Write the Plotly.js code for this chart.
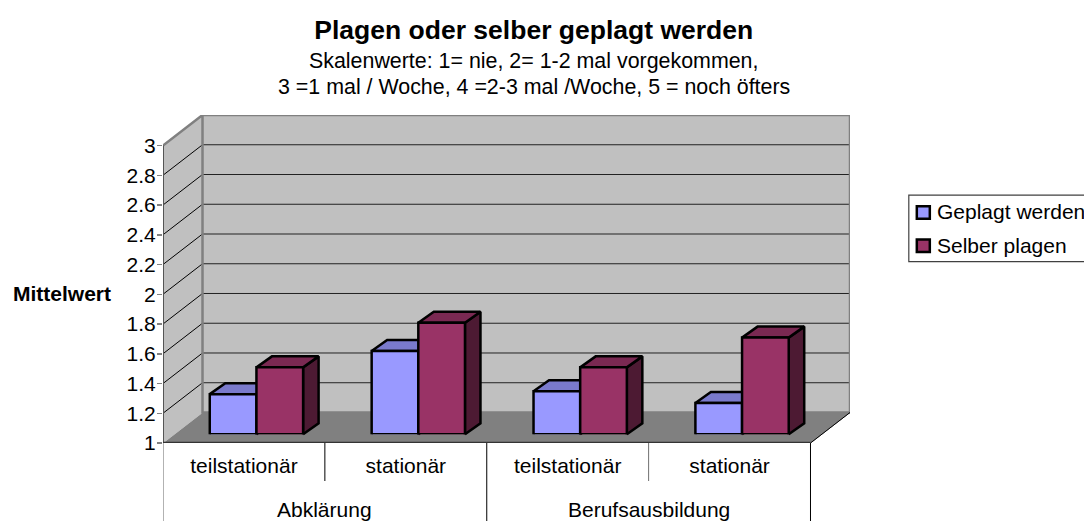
<!DOCTYPE html>
<html><head><meta charset="utf-8">
<script src="https://cdn.plot.ly/plotly-3.0.1.min.js"></script>
<style>html,body{margin:0;padding:0;background:#fff;overflow:hidden}</style>
</head><body><div id="c" style="width:1084px;height:521px"></div>
<script>
const subCategories = ['teilstationär','stationär','teilstationär','stationär'];
const groups = ['Abklärung','Berufsausbildung'];
const geplagt = [1.27,1.56,1.29,1.21];
const selber = [1.45,1.75,1.45,1.65];
const yTicks = [1,1.2,1.4,1.6,1.8,2,2.2,2.4,2.6,2.8,3];
const yTickText = ['1','1.2','1.4','1.6','1.8','2','2.2','2.4','2.6','2.8','3'];
const titleText = 'Plagen oder selber geplagt werden';
const subtitle1 = 'Skalenwerte: 1= nie, 2= 1-2 mal vorgekommen,';
const subtitle2 = '3 =1 mal / Woche, 4 =2-3 mal /Woche, 5 = noch öfters';
const FONT = '"Liberation Sans", Arial, sans-serif';
const BLUE = {name:'Geplagt werden', front:'#9999ff', top:'#7a7acc', side:'#4d4d80'};
const RED = {name:'Selber plagen', front:'#993366', top:'#7a2952', side:'#4d1a33'};

// layout geometry
const W=1084,H=521,L=163.3,T=114.8,B=442.7;
const unitX=161.85,unitY=148.7;
const wallDX=39.5/unitX, wallDY=30.5/unitY;
const barDX=15.5/unitX, barDY=11/unitY;
const groupW=93.3/unitX, groupShift=12.5/unitX, lift=8.7/unitY;
const plotW=unitX*(4+wallDX), plotH=B-T;
const nCat=subCategories.length;
const centers=subCategories.map((_,i)=>i+0.5);
const barX=centers.map(c=>c+groupShift);
const px=x=>(x-L)/plotW, py=y=>(B-y)/plotH;

function poly(pts,fill,line,width){return {type:'scatter',mode:'lines',x:pts.map(p=>p&&p[0]),y:pts.map(p=>p&&p[1]),
  fill:fill?'toself':'none',fillcolor:fill||undefined,line:{color:line,width:width,shape:'linear'},
  cliponaxis:false,hoverinfo:'skip',showlegend:false,connectgaps:false};}

const traces=[];
const wallTop=3+wallDY, wallBase=1+wallDY, wallRight=nCat+wallDX;
traces.push(poly([[0,1],[wallDX,wallBase],[wallRight,wallBase],[nCat,1],[0,1]],'#808080','#808080',1));
traces.push(poly([[0,1],[wallDX,wallBase],[wallDX,wallTop],[0,3],[0,1]],'#c0c0c0','#c0c0c0',1));
traces.push(poly([[wallDX,wallBase],[wallRight,wallBase],[wallRight,wallTop],[wallDX,wallTop],[wallDX,wallBase]],'#c0c0c0','#c0c0c0',1));
// gridlines
const gl=[],gb=[];
yTicks.slice(1,-1).forEach(v=>{gl.push([0,v],[wallDX,v+wallDY],null);gb.push([wallDX,v+wallDY],[wallRight,v+wallDY],null);});
traces.push(poly(gl,null,'#000000',1));
traces.push(poly(gb,null,'#222222',1));
// wall borders
traces.push(poly([[0,3],[wallDX,wallTop],[wallRight,wallTop],[wallRight,wallBase],[wallDX,wallBase],[wallDX,wallTop]],null,'#808080',2.5));
traces.push(poly([[nCat,1],[wallRight,wallBase]],null,'#000000',1));
traces.push(poly([[0,3],[0,1]],null,'#555555',2));

// bar top and side faces, behind the front faces
[[geplagt,BLUE,-1],[selber,RED,0]].forEach(([vals,s,k])=>{
  const tp=[],sd=[];
  vals.forEach((v,i)=>{
    const x0=barX[i]+k*groupW/2, x1=x0+groupW/2, t=v+lift, b=1+lift;
    tp.push([x0,t],[x1,t],[x1+barDX,t+barDY],[x0+barDX,t+barDY],[x0,t],null);
    sd.push([x1,b],[x1+barDX,b+barDY],[x1+barDX,t+barDY],[x1,t],[x1,b],null);
  });
  traces.push(poly(sd,s.side,'#000000',2.5));
  traces.push(poly(tp,s.top,'#000000',2.5));
});
// front faces
[[geplagt,BLUE],[selber,RED]].forEach(([vals,s])=>{
  traces.push({type:'bar',name:s.name,x:barX,y:vals,yaxis:'y2',
    marker:{color:s.front,line:{color:'#000000',width:2.5}},hoverinfo:'skip',showlegend:false});
});
// base edge of the bars
const edge=[];
barX.forEach(x=>{edge.push([x-groupW/2,1],[x+groupW/2,1],null);});
const be=poly(edge,null,'#000000',2.5); be.yaxis='y2'; traces.push(be);
// front floor edge
traces.push(poly([[0,1],[nCat,1]],null,'#333333',2.5));

const shapes=[];
const dividerColor=['#666666','#000000','#000000','#707070','#000000'];
[0,1,2,3,4].forEach(i=>{
  shapes.push({type:'line',xref:'x',yref:'paper',x0:i,x1:i,y0:0,y1:py(i%2?480.7:524),
    line:{color:dividerColor[i],width:1}});
});
// legend
shapes.push({type:'rect',xref:'paper',yref:'paper',x0:px(909),x1:px(1095),y0:py(195),y1:py(261.3),
  line:{color:'#404040',width:1.2},fillcolor:'#ffffff'});
shapes.push({type:'rect',xref:'paper',yref:'paper',x0:px(917),x1:px(930),y0:py(206),y1:py(218.5),
  line:{color:'#000000',width:2.5},fillcolor:BLUE.front});
shapes.push({type:'rect',xref:'paper',yref:'paper',x0:px(917),x1:px(930),y0:py(239.3),y1:py(251.8),
  line:{color:'#000000',width:2.5},fillcolor:RED.front});

const ann=(text,x,y,size,anchor,bold)=>({text:bold?'<b>'+text+'</b>':text,xref:'paper',yref:'paper',x:px(x),y:py(y),
  xanchor:anchor||'center',yanchor:'middle',showarrow:false,borderpad:0,font:{family:FONT,size:size,color:'#000'}});
const annotations=[
  ann(subtitle1,534,60.7,21.4),
  ann(subtitle2,534,87.3,21.4),
  ann('Mittelwert',112,293,21,'right',true),
  ann(BLUE.name,936,211.7,21,'left'),
  ann(RED.name,936,245,21,'left'),
];
groups.forEach((g,i)=>{annotations.push({text:g,xref:'x',yref:'paper',x:2*i+1,y:py(509.5),xanchor:'center',yanchor:'middle',
  showarrow:false,font:{family:FONT,size:21,color:'#000'}});});

const layout={
  width:W,height:H,showlegend:false,hovermode:false,
  paper_bgcolor:'#ffffff',plot_bgcolor:'rgba(0,0,0,0)',
  margin:{l:L,r:W-L-plotW,t:T,b:H-B,pad:0,autoexpand:false},
  title:{text:'<b>'+titleText+'</b>',font:{family:FONT,size:26.5,color:'#000'},x:px(534),xanchor:'center',y:1-30/H,yanchor:'middle',xref:'paper',yref:'container'},
  barmode:'group',bargap:1-groupW,bargroupgap:0,
  font:{family:FONT,size:21,color:'#000'},
  xaxis:{range:[0,nCat+wallDX],tickmode:'array',tickvals:centers,ticktext:subCategories,showgrid:false,zeroline:false,showline:false,
    ticks:'outside',ticklen:4,tickcolor:'rgba(0,0,0,0)',tickfont:{family:FONT,size:21,color:'#000'},fixedrange:true},
  yaxis:{range:[1,1+plotH/unitY],tickmode:'array',tickvals:yTicks,ticktext:yTickText,showgrid:false,zeroline:false,showline:false,
    ticks:'outside',ticklen:5,tickcolor:'#808080',tickwidth:1.5,ticklabelstandoff:-3,tickfont:{family:FONT,size:21,color:'#000'},fixedrange:true},
  yaxis2:{domain:[lift*unitY/plotH,1],range:[1,1+(plotH-lift*unitY)/unitY],visible:false,anchor:'x',fixedrange:true},
  shapes:shapes,annotations:annotations
};
Plotly.newPlot('c',traces,layout,{displayModeBar:false,staticPlot:true});
</script></body></html>
